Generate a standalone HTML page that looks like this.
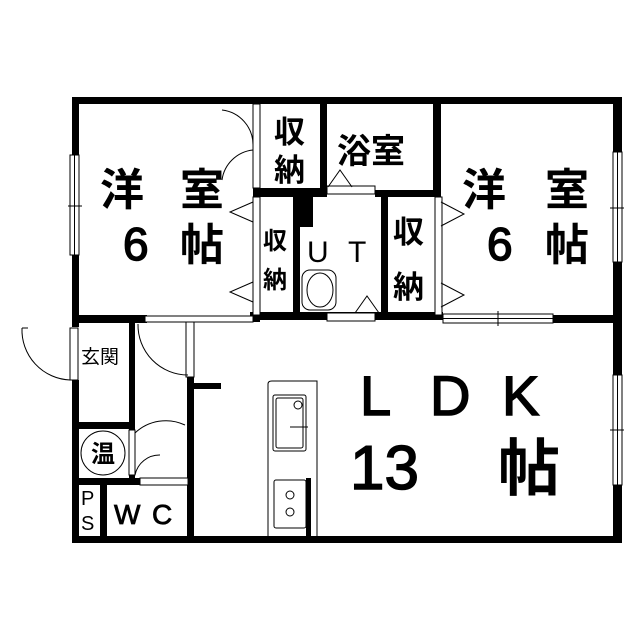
<!DOCTYPE html>
<html><head><meta charset="utf-8"><style>
html,body{margin:0;padding:0;background:#fff;}
svg{display:block;}
text{font-family:"Liberation Sans","Noto Sans CJK JP",sans-serif;fill:#000;}
.t{stroke:#000;stroke-width:1.5;}
</style></head><body>
<svg width="639" height="640" viewBox="0 0 639 640" xmlns="http://www.w3.org/2000/svg">
<rect width="639" height="640" fill="#fff"/>
<g fill="#000">
<rect x="72" y="97" width="550" height="7"/>
<rect x="72" y="97" width="7" height="230"/>
<rect x="72" y="380" width="7" height="163"/>
<rect x="613" y="97" width="9" height="446"/>
<rect x="72" y="536" width="550" height="7"/>
<rect x="72" y="315" width="75" height="8"/>
<rect x="250" y="312" width="193" height="8"/>
<rect x="552" y="315" width="70" height="8"/>
<rect x="253" y="97" width="7" height="225"/>
<rect x="320" y="97" width="7" height="100"/>
<rect x="253" y="188" width="74" height="9"/>
<rect x="293" y="193" width="7" height="127"/>
<rect x="293" y="193" width="20" height="34"/>
<rect x="381" y="193" width="7" height="127"/>
<rect x="433" y="97" width="8" height="100"/>
<rect x="375" y="190" width="66" height="7"/>
<rect x="129" y="322" width="6" height="106"/>
<rect x="72" y="422" width="63" height="7"/>
<rect x="72" y="478" width="115" height="7"/>
<rect x="129" y="428" width="6" height="57"/>
<rect x="100" y="485" width="7" height="55"/>
<rect x="187" y="377" width="7" height="165"/>
<rect x="193" y="383" width="28" height="6"/>
<rect x="306" y="478" width="5" height="60"/>
</g>
<g fill="#fff" stroke="#000" stroke-width="1">
<rect x="70" y="155" width="9" height="100"/>
<line x1="74.5" y1="155" x2="74.5" y2="255"/>
<line x1="68" y1="206" x2="82" y2="206"/>
<rect x="613" y="152" width="9" height="110"/>
<line x1="617.5" y1="152" x2="617.5" y2="262"/>
<line x1="610" y1="208" x2="624" y2="208"/>
<rect x="613" y="375" width="9" height="110"/>
<line x1="617.5" y1="375" x2="617.5" y2="485"/>
<line x1="610" y1="430" x2="624" y2="430"/>
<rect x="443" y="314" width="110" height="9"/>
<line x1="443" y1="318.5" x2="553" y2="318.5"/>
<line x1="498" y1="311" x2="498" y2="326"/>
<rect x="145" y="316" width="108" height="6"/>
<rect x="327" y="186" width="48" height="8"/>
<rect x="327" y="313" width="48" height="8"/>
<rect x="253" y="197" width="7" height="118"/>
<rect x="435" y="197" width="7" height="118"/>
<rect x="253" y="104" width="7" height="84"/>
<rect x="186" y="322" width="8" height="55"/>
<rect x="70" y="328" width="8" height="52"/>
<rect x="129" y="430" width="6" height="45"/>
<rect x="140" y="478" width="48" height="7"/>
</g>
<g fill="none" stroke="#000" stroke-width="1">
<path d="M22 328 A50 50 0 0 0 70 380"/>
<line x1="22" y1="328" x2="28" y2="328"/>
<path d="M138 324 A50 50 0 0 0 188 375"/>
<path d="M222 110 A35 35 0 0 1 253 145"/>
<path d="M222 180 A35 35 0 0 1 253 150"/>
<path d="M135 433 A45 45 0 0 1 185 425"/>
<path d="M135 475 A25 25 0 0 1 160 455"/>
<path d="M253 202 L230 212 L253 222"/>
<path d="M253 282 L230 292 L253 302"/>
<path d="M441 202 L464 214 L441 226"/>
<path d="M441 283 L464 295 L441 307"/>
<path d="M328 187 L340 170 L352 187"/>
<path d="M355 313 L367 296 L379 313"/>
<path d="M268 538 L268 384 Q268 381 272 381 L317 381 L317 538"/>
<rect x="273" y="395" width="33" height="56" rx="2"/>
<rect x="276" y="398" width="27" height="50" rx="2"/>
<circle cx="298" cy="405" r="4"/>
<line x1="290" y1="427" x2="308" y2="427"/>
<rect x="274" y="480" width="32" height="48" rx="2"/>
<circle cx="290" cy="495" r="4"/>
<circle cx="290" cy="512" r="4"/>
<rect x="302" y="270" width="34" height="40" rx="8"/>
<ellipse cx="320" cy="290" rx="13" ry="17"/>
<circle cx="103" cy="453" r="22"/>
</g>
<g font-weight="bold">
<text x="100" y="205" font-size="44">洋</text>
<text x="180" y="205" font-size="44">室</text>
<text x="180" y="260" font-size="44">帖</text>
<text x="462" y="205" font-size="44">洋</text>
<text x="545" y="205" font-size="44">室</text>
<text x="545" y="260" font-size="44">帖</text>
<text x="274" y="143" font-size="31">収</text>
<text x="274" y="181" font-size="31">納</text>
<text x="337" y="163" font-size="34">浴室</text>
<text x="263" y="249" font-size="24">収</text>
<text x="263" y="288" font-size="24">納</text>
<text x="393" y="243" font-size="31">収</text>
<text x="393" y="298" font-size="31">納</text>
<text x="498" y="490" font-size="62">帖</text>
<text x="91" y="462" font-size="24">温</text>
</g>
<g class="t">
<text x="123" y="260" font-size="46">6</text>
<text x="487" y="260" font-size="46">6</text>
<text x="360" y="415" font-size="56">L</text>
<text x="430" y="415" font-size="56">D</text>
<text x="502" y="415" font-size="56">K</text>
<text x="350" y="489" font-size="62">13</text>
<text x="114" y="524" font-size="28" stroke-width="0.8">W</text>
<text x="152" y="524" font-size="28" stroke-width="0.8">C</text>
</g>
<text x="307" y="262" font-size="30">U</text>
<text x="348" y="262" font-size="30">T</text>
<text x="81" y="363" font-size="19">玄関</text>
<text x="81" y="505" font-size="20">P</text>
<text x="81" y="530" font-size="20">S</text>
</svg>
</body></html>
